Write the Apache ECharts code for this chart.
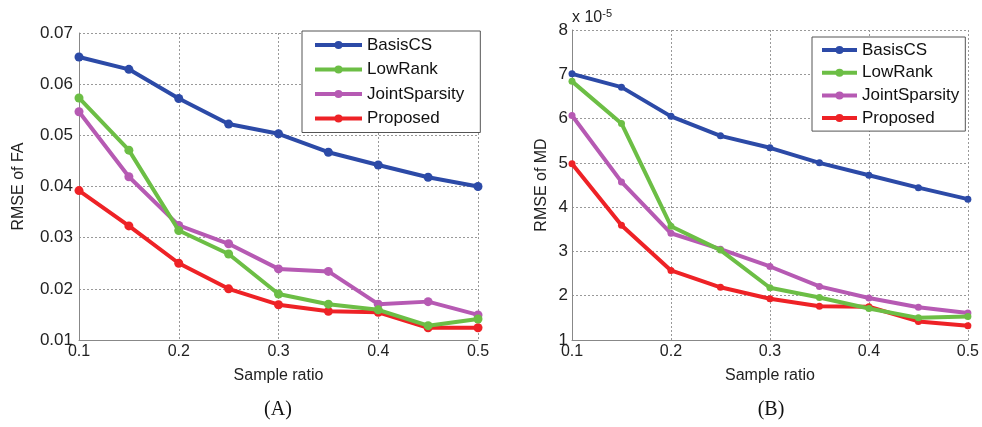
<!DOCTYPE html>
<html>
<head>
<meta charset="utf-8">
<script src="https://cdn.jsdelivr.net/npm/echarts@6/dist/echarts.min.js"></script>
<style>
  html, body { margin: 0; padding: 0; background: #fff; }
  #chart { width: 982px; height: 427px; }
</style>
</head>
<body>
<div id="chart"></div>
<script>
// sample ratios (x axis)
const ratios = [0.1, 0.15, 0.2, 0.25, 0.3, 0.35, 0.4, 0.45, 0.5];
const methods = ['BasisCS', 'LowRank', 'JointSparsity', 'Proposed'];

// (A) RMSE of FA
const faBasisCS = [0.0653, 0.0629, 0.0572, 0.0522, 0.0503, 0.0467, 0.0442, 0.0418, 0.0400];
const faLowRank = [0.0573, 0.0471, 0.0314, 0.0268, 0.0190, 0.0170, 0.0159, 0.0128, 0.0141];
const faJointSparsity = [0.0546, 0.0419, 0.0324, 0.0288, 0.0239, 0.0234, 0.0170, 0.0175, 0.0149];
const faProposed = [0.0392, 0.0323, 0.0250, 0.0200, 0.0169, 0.0156, 0.0154, 0.0124, 0.0124];

// (B) RMSE of MD, in units of 1e-5
const mdBasisCS = [7.01, 6.71, 6.05, 5.61, 5.34, 5.00, 4.72, 4.44, 4.18];
const mdLowRank = [6.84, 5.89, 3.57, 3.03, 2.18, 1.96, 1.71, 1.50, 1.53];
const mdJointSparsity = [6.07, 4.57, 3.41, 3.05, 2.66, 2.21, 1.95, 1.74, 1.61];
const mdProposed = [4.98, 3.59, 2.57, 2.19, 1.93, 1.76, 1.75, 1.42, 1.32];

const colors = ['#2c4aa7', '#6cbe45', '#b65ab3', '#ee2226'];
const font = 'Arial, "Liberation Sans", sans-serif';

const chart = echarts.init(document.getElementById('chart'));

function pairs(vals) {
  return ratios.map((r, i) => [r, vals[i]]);
}

function makeSeries(list, idx, symbolSize) {
  return list.map((vals, i) => ({
    name: methods[i],
    type: 'line',
    xAxisIndex: idx,
    yAxisIndex: idx,
    data: pairs(vals),
    symbol: 'circle',
    symbolSize: symbolSize,
    lineStyle: { width: 4, color: colors[i] },
    itemStyle: { color: colors[i] },
    z: 10 - i,
    animation: false
  }));
}

function xAxisCfg(idx) {
  return {
    type: 'value', gridIndex: idx, min: 0.1, max: 0.5, interval: 0.1,
    name: 'Sample ratio', nameLocation: 'middle', nameGap: 28,
    nameTextStyle: { color: '#222', fontSize: 16, fontFamily: font },
    axisLine: { lineStyle: { color: '#888', width: 1 } },
    axisTick: { show: false },
    axisLabel: { color: '#222', fontSize: 16, fontFamily: font, margin: 4,
      formatter: v => v.toFixed(1) },
    splitLine: { show: true, lineStyle: { color: '#999', type: [2, 2], width: 1 } }
  };
}

const legendBase = {
  orient: 'vertical',
  backgroundColor: '#fff',
  borderColor: '#555',
  borderWidth: 1,
  borderRadius: 0,
  itemHeight: 10,
  lineStyle: { width: 4 },
  textStyle: { color: '#111', fontSize: 17, fontFamily: font, lineHeight: 18 },
  selectedMode: false,
  data: methods
};

chart.setOption({
  animation: false,
  color: colors,
  grid: [
    { left: 79, top: 33, width: 399, height: 307 },
    { left: 572, top: 30, width: 398, height: 310 }
  ],
  xAxis: [xAxisCfg(0), xAxisCfg(1)],
  yAxis: [
    {
      type: 'value', gridIndex: 0, min: 0.01, max: 0.07, interval: 0.01,
      name: 'RMSE of FA', nameLocation: 'middle', nameGap: 52, nameRotate: 90,
      nameTextStyle: { color: '#222', fontSize: 16, fontFamily: font },
      axisLine: { show: true, lineStyle: { color: '#888', width: 1 } },
      axisTick: { show: false },
      axisLabel: { color: '#222', fontSize: 17, fontFamily: font, margin: 6,
        formatter: v => v.toFixed(2) },
      splitLine: { show: true, lineStyle: { color: '#999', type: [2, 2], width: 1 } }
    },
    {
      type: 'value', gridIndex: 1, min: 1, max: 8, interval: 1,
      name: 'RMSE of MD', nameLocation: 'middle', nameGap: 22, nameRotate: 90,
      nameTextStyle: { color: '#222', fontSize: 16, fontFamily: font },
      axisLine: { show: true, lineStyle: { color: '#888', width: 1 } },
      axisTick: { show: false },
      axisLabel: { color: '#222', fontSize: 17, fontFamily: font, margin: 4 },
      splitLine: { show: true, lineStyle: { color: '#999', type: [2, 2], width: 1 } }
    }
  ],
  legend: [
    Object.assign({}, legendBase, {
      left: 302, top: 31, itemWidth: 47, itemGap: 6.5, padding: [5, 16, 5, 11]
    }),
    Object.assign({}, legendBase, {
      left: 812, top: 37, itemWidth: 35, itemGap: 4.7, padding: [4, 6, 4, 8]
    })
  ],
  graphic: [
    { type: 'text', left: 572, top: 8,
      style: { text: 'x 10{s|-5}', fill: '#222', font: '16px ' + font,
        rich: { s: { fontSize: 11, fontFamily: font, verticalAlign: 'top', padding: [0, 0, 8, 0] } } } },
    { type: 'text', x: 278, y: 410,
      style: { text: '(A)', fill: '#111', font: '20px "Liberation Serif", "Times New Roman", serif',
        align: 'center', verticalAlign: 'middle' } },
    { type: 'text', x: 771, y: 410,
      style: { text: '(B)', fill: '#111', font: '20px "Liberation Serif", "Times New Roman", serif',
        align: 'center', verticalAlign: 'middle' } }
  ],
  series: [].concat(
    makeSeries([faBasisCS, faLowRank, faJointSparsity, faProposed], 0, 9),
    makeSeries([mdBasisCS, mdLowRank, mdJointSparsity, mdProposed], 1, 7)
  )
});
</script>
</body>
</html>
